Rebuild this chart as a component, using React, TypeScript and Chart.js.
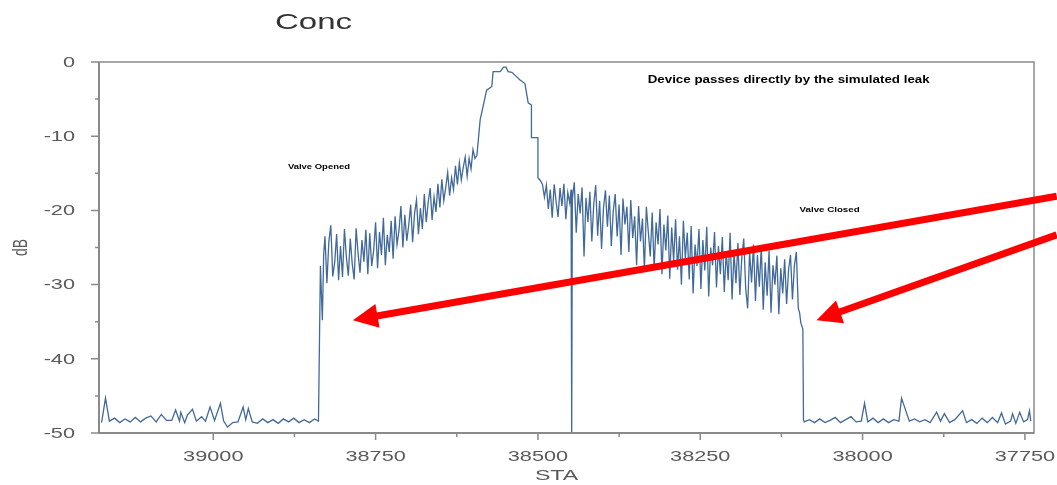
import React, { useEffect, useRef } from "react";
import { Chart, registerables } from "chart.js";

Chart.register(...registerables);

// ---------- data (STA station, dB) ----------
const leftBaseSta = [39172, 39166, 39160, 39152, 39144, 39136, 39128, 39120, 39112, 39104, 39096, 39088, 39080, 39072, 39064, 39058, 39052, 39050, 39044, 39040, 39032, 39026, 39018, 39012, 39005, 38998, 38989, 38984, 38978, 38970, 38962, 38954, 38950, 38946, 38940, 38932, 38924, 38916, 38908, 38900, 38892, 38884, 38876, 38868, 38860, 38852, 38844, 38838];
const leftBaseDb = [-48.6, -45.3, -48.4, -48.0, -48.6, -48.1, -48.5, -47.9, -48.5, -48.0, -47.7, -48.5, -47.5, -48.3, -48.3, -46.9, -48.4, -47.2, -48.6, -47.6, -46.8, -48.4, -47.8, -48.4, -46.5, -48.3, -46.0, -48.4, -49.2, -48.6, -48.5, -46.5, -48.2, -46.7, -48.5, -48.7, -48.1, -48.6, -48.2, -48.7, -48.1, -48.5, -48.0, -48.6, -48.2, -48.6, -48.1, -48.4];

const riseSta = [38835, 38832, 38830, 38828, 38825, 38822, 38819, 38816, 38813, 38810, 38807, 38804, 38801, 38798, 38795, 38792, 38789, 38786, 38783, 38780, 38777, 38774, 38771, 38768, 38765, 38762, 38759, 38756, 38753, 38750, 38747, 38744, 38741, 38738, 38735, 38732, 38729, 38726, 38723, 38720, 38717, 38714, 38711, 38708, 38705, 38702, 38699, 38696, 38693, 38690, 38687, 38684, 38681, 38678, 38675, 38672, 38669, 38666, 38663, 38660, 38657, 38654, 38651, 38648, 38645, 38642, 38639, 38636, 38633, 38630, 38627, 38624, 38621, 38618, 38615, 38612, 38609, 38606, 38603, 38600, 38597, 38594];
const riseDb = [-27.5, -34.8, -26.0, -23.5, -29.8, -24.2, -22.0, -28.9, -27.0, -23.2, -29.4, -24.8, -29.0, -22.5, -26.3, -28.8, -23.8, -27.2, -29.3, -22.4, -25.8, -28.4, -24.0, -26.9, -22.6, -28.6, -23.1, -27.5, -25.4, -21.6, -27.8, -22.9, -26.0, -21.0, -27.4, -23.3, -25.6, -21.4, -26.5, -20.8, -24.6, -22.7, -19.4, -25.0, -20.6, -24.1, -22.0, -19.2, -24.3, -20.4, -18.6, -23.2, -19.7, -22.5, -17.8, -21.6, -18.9, -17.0, -21.3, -18.2, -20.2, -16.4, -19.6, -15.8, -18.7, -16.9, -14.9, -18.0, -15.6, -17.2, -14.0, -16.5, -13.6, -15.9, -14.2, -12.8, -15.4, -13.0, -14.4, -11.8, -13.0, -12.6];

const peakSta = [38589, 38579, 38571, 38569, 38558, 38553, 38549, 38546, 38540, 38535, 38528, 38520, 38515, 38510, 38510, 38500, 38500];
const peakDb = [-7.8, -3.8, -3.3, -1.3, -1.3, -0.7, -0.7, -1.3, -1.4, -1.8, -2.4, -2.9, -5.5, -5.8, -10.2, -10.2, -15.6];

const decaySta = [38496, 38493, 38490, 38487, 38484, 38481, 38478, 38475, 38472, 38469, 38466, 38463, 38460, 38457, 38454, 38451, 38449, 38448, 38447, 38444, 38441, 38438, 38435, 38432, 38429, 38426, 38423, 38420, 38417, 38414, 38411, 38408, 38405, 38402, 38399, 38396, 38393, 38390, 38387, 38384, 38381, 38378, 38375, 38372, 38369, 38366, 38363, 38360, 38357, 38354, 38351, 38348, 38345, 38342, 38339, 38336, 38333, 38330, 38327, 38324, 38321, 38318, 38315, 38312, 38309, 38306, 38303, 38300, 38297, 38294, 38291, 38288, 38285, 38282, 38279, 38276, 38273, 38270, 38267, 38264, 38261, 38258, 38255, 38252, 38249, 38246, 38243, 38240, 38237, 38234, 38231, 38228, 38225, 38222, 38219, 38216, 38213, 38210, 38207, 38204, 38201, 38198, 38195, 38192, 38189, 38186, 38183, 38180, 38177, 38174, 38171, 38168, 38165, 38162, 38159, 38156, 38153, 38150, 38147, 38144, 38141, 38138, 38135, 38132, 38129, 38126, 38123, 38120, 38117, 38114, 38111, 38108, 38105, 38102, 38099, 38097, 38095, 38092, 38091];
const decayDb = [-16.0, -16.5, -18.2, -16.6, -19.8, -17.2, -21.0, -16.5, -18.8, -20.9, -17.0, -19.4, -16.4, -21.2, -17.6, -19.0, -17.2, -50.0, -18.5, -16.2, -23.0, -17.8, -20.4, -16.9, -26.2, -18.3, -21.6, -17.5, -24.2, -19.1, -16.6, -23.4, -18.7, -25.2, -19.6, -17.3, -22.2, -18.0, -24.8, -20.1, -17.8, -23.5, -19.2, -26.0, -18.4, -21.9, -19.5, -25.6, -18.6, -23.7, -20.8, -27.4, -19.4, -24.2, -21.1, -28.1, -19.5, -22.9, -26.2, -20.3, -27.9, -21.6, -24.6, -19.8, -28.6, -21.9, -25.4, -20.7, -29.2, -22.3, -26.8, -21.2, -28.0, -23.5, -30.0, -21.4, -26.4, -23.0, -29.3, -22.1, -31.2, -24.6, -27.5, -22.5, -30.6, -24.0, -28.1, -22.2, -31.6, -25.0, -27.4, -22.9, -30.4, -24.8, -28.6, -23.6, -31.0, -25.5, -29.4, -23.0, -32.0, -25.7, -29.8, -24.4, -31.4, -26.3, -23.8, -30.6, -33.2, -25.5, -29.7, -24.6, -32.2, -26.0, -30.3, -24.9, -33.4, -27.0, -31.5, -25.4, -33.8, -27.4, -30.0, -26.1, -34.0, -27.8, -31.2, -26.6, -32.6, -28.0, -26.0, -32.0, -27.4, -25.6, -33.2, -33.8, -35.2, -36.0, -48.2];

const rightBaseSta = [38090, 38082, 38074, 38066, 38058, 38050, 38042, 38034, 38026, 38018, 38010, 38002, 37997, 37992, 37984, 37976, 37968, 37960, 37952, 37944, 37940, 37928, 37920, 37912, 37904, 37896, 37886, 37880, 37874, 37866, 37858, 37846, 37840, 37832, 37824, 37816, 37808, 37800, 37792, 37786, 37780, 37772, 37769, 37764, 37758, 37752, 37746, 37743, 37741];
const rightBaseDb = [-48.5, -48.2, -48.6, -48.1, -48.6, -48.3, -47.9, -48.6, -48.2, -47.8, -48.5, -48.4, -46.0, -48.5, -48.0, -48.6, -48.1, -48.6, -48.2, -48.4, -45.3, -48.4, -48.1, -48.5, -48.2, -48.6, -47.2, -48.4, -47.4, -48.6, -48.2, -47.0, -48.6, -48.2, -48.7, -48.0, -48.6, -47.9, -48.6, -47.3, -48.8, -48.4, -47.4, -48.7, -47.2, -48.5, -48.2, -47.0, -48.4];

// ticks
const xMajorTicks = [39000, 38750, 38500, 38250, 38000, 37750];
const xMinorTicks = [38875, 38625, 38375, 38125, 37875];
const yMajorTicks = [0, -10, -20, -30, -40, -50];
const yMinorTicks = [-5, -15, -25, -35, -45];

// texts
const titleText = "Conc";
const xTitle = "STA";
const yTitle = "dB";
const notes = [
  { text: "Device passes directly by the simulated leak", sta: 38331, db: -2.4, width: 282, font: "bold 11px Arial" },
  { text: "Valve Opened", sta: 38885, db: -14.1, width: 62, font: "bold 8px Arial" },
  { text: "Valve Closed", sta: 38097, db: -19.9, width: 60, font: "bold 8px Arial" },
];
const arrows = [
  { fromSta: 37701, fromDb: -18.1, toSta: 38785, toDb: -34.8 },
  { fromSta: 37701, fromDb: -23.3, toSta: 38071, toDb: -34.8 },
];

const STRETCH = 1.55;

function drawText(ctx: CanvasRenderingContext2D, text: string, px: number, py: number, font: string, color: string, align: string, sx: number, targetWidth?: number) {
  ctx.save();
  ctx.font = font;
  ctx.fillStyle = color;
  ctx.textBaseline = "middle";
  ctx.textAlign = "left";
  const w = ctx.measureText(text).width;
  const s = targetWidth ? targetWidth / w : sx;
  const W = w * s;
  const left = align === "left" ? px : align === "center" ? px - W / 2 : px - W;
  ctx.translate(left, py);
  ctx.scale(s, 1);
  ctx.fillText(text, 0, 0);
  ctx.restore();
}

const decorPlugin = {
  id: "decor",
  afterDatasetsDraw(chart: any) {
    const { ctx, chartArea: a, scales } = chart;
    const xs = scales.x;
    const ys = scales.y;
    ctx.save();
    // frame
    ctx.strokeStyle = "#8a8a8a";
    ctx.lineWidth = 1.5;
    ctx.strokeRect(a.left, a.top, a.right - a.left, a.bottom - a.top);
    ctx.lineWidth = 2;
    ctx.beginPath();
    ctx.moveTo(a.left, a.top);
    ctx.lineTo(a.left, a.bottom);
    ctx.lineTo(a.right, a.bottom);
    ctx.stroke();
    // tick marks
    ctx.lineWidth = 1.5;
    ctx.beginPath();
    for (const v of yMajorTicks) {
      const py = ys.getPixelForValue(v);
      ctx.moveTo(a.left - 8, py);
      ctx.lineTo(a.left, py);
    }
    for (const v of yMinorTicks) {
      const py = ys.getPixelForValue(v);
      ctx.moveTo(a.left - 4, py);
      ctx.lineTo(a.left, py);
    }
    for (const v of xMajorTicks) {
      const px = xs.getPixelForValue(v);
      ctx.moveTo(px, a.bottom);
      ctx.lineTo(px, a.bottom + 7);
    }
    for (const v of xMinorTicks) {
      const px = xs.getPixelForValue(v);
      ctx.moveTo(px, a.bottom);
      ctx.lineTo(px, a.bottom + 4);
    }
    ctx.stroke();
    // tick labels
    for (const v of yMajorTicks) {
      drawText(ctx, String(v), a.left - 24, ys.getPixelForValue(v) + 1, "14px Arial", "#5a5a5a", "right", STRETCH);
    }
    for (const v of xMajorTicks) {
      drawText(ctx, String(v), xs.getPixelForValue(v), a.bottom + 24, "14px Arial", "#5a5a5a", "center", STRETCH);
    }
    // axis titles
    drawText(ctx, xTitle, (a.left + a.right) / 2 - 10, 476, "14px Arial", "#5a5a5a", "center", 1.65);
    ctx.save();
    ctx.translate(22, (a.top + a.bottom) / 2);
    ctx.rotate(-Math.PI / 2);
    ctx.scale(1, 1.4);
    ctx.font = "14px Arial";
    ctx.fillStyle = "#5a5a5a";
    ctx.textAlign = "center";
    ctx.textBaseline = "middle";
    ctx.fillText(yTitle, 0, 0);
    ctx.restore();
    // title (partly hidden)
    ctx.save();
    ctx.beginPath();
    ctx.rect(0, 0, 352, 60);
    ctx.clip();
    drawText(ctx, titleText, 275, 23, "22px Arial", "#333", "left", 1.5);
    ctx.restore();
    // notes
    for (const n of notes) {
      drawText(ctx, n.text, xs.getPixelForValue(n.sta), ys.getPixelForValue(n.db), n.font, "#000", "left", 1, n.width);
    }
    // arrows
    ctx.strokeStyle = "#ff0000";
    ctx.fillStyle = "#ff0000";
    ctx.lineWidth = 7;
    ctx.lineCap = "butt";
    for (const ar of arrows) {
      const x0 = xs.getPixelForValue(ar.fromSta);
      const y0 = ys.getPixelForValue(ar.fromDb);
      const x1 = xs.getPixelForValue(ar.toSta);
      const y1 = ys.getPixelForValue(ar.toDb);
      const ang = Math.atan2(y1 - y0, x1 - x0);
      const headLen = 25;
      const headHalf = 12;
      const bx = x1 - headLen * Math.cos(ang);
      const by = y1 - headLen * Math.sin(ang);
      ctx.beginPath();
      ctx.moveTo(x0, y0);
      ctx.lineTo(bx + 2 * Math.cos(ang), by + 2 * Math.sin(ang));
      ctx.stroke();
      ctx.beginPath();
      ctx.moveTo(x1, y1);
      ctx.lineTo(bx + headHalf * Math.sin(ang), by - headHalf * Math.cos(ang));
      ctx.lineTo(bx - headHalf * Math.sin(ang), by + headHalf * Math.cos(ang));
      ctx.closePath();
      ctx.fill();
    }
    ctx.restore();
  },
};

export default function App() {
  const ref = useRef<HTMLCanvasElement | null>(null);
  useEffect(() => {
    if (!ref.current) return;
    const allSta = [...leftBaseSta, ...riseSta, ...peakSta, ...decaySta, ...rightBaseSta];
    const allDb = [...leftBaseDb, ...riseDb, ...peakDb, ...decayDb, ...rightBaseDb];
    const pts = allSta.map((s, i) => ({ x: s, y: allDb[i] }));
    const chart = new Chart(ref.current, {
      type: "line",
      data: {
        datasets: [
          {
            data: pts,
            borderColor: "#41699a",
            borderWidth: 1.3,
            pointRadius: 0,
            tension: 0,
            fill: false,
          },
        ],
      },
      options: {
        animation: false,
        responsive: false,
        devicePixelRatio: 1,
        layout: { padding: { left: 99, right: 23, top: 62, bottom: 52 } },
        plugins: { legend: { display: false }, tooltip: { enabled: false }, title: { display: false } },
        scales: {
          x: { type: "linear", reverse: true, min: 37736, max: 39176, display: false },
          y: { type: "linear", min: -50, max: 0, display: false },
        },
      },
      plugins: [decorPlugin],
    });
    return () => chart.destroy();
  }, []);
  return (
    <div style={{ position: "fixed", left: 0, top: 0, width: 1057, height: 485, background: "#fff" }}>
      <canvas ref={ref} width={1057} height={485} />
    </div>
  );
}
